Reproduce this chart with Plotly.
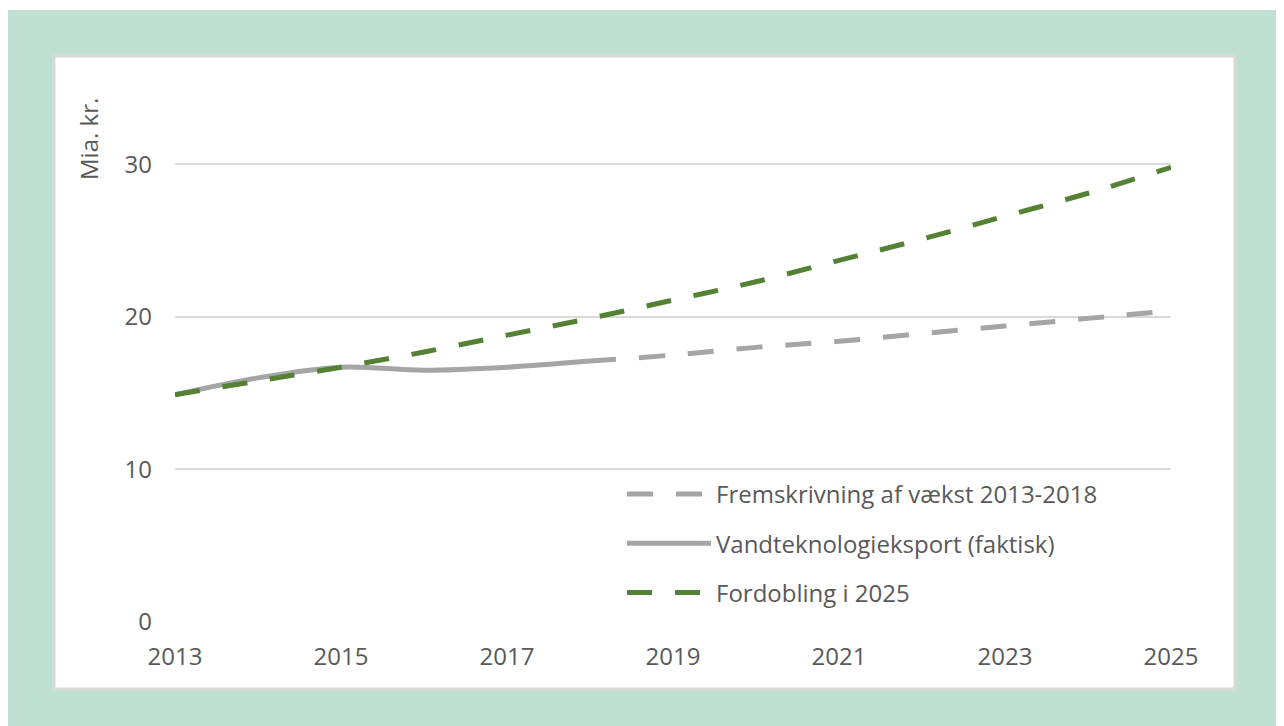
import plotly.graph_objects as go

# ---- data ----
years_actual = [2013, 2014, 2015, 2016, 2017, 2018]
actual_values = [14.9, 16.0, 16.7, 16.5, 16.7, 17.1]

years_projection = [2018, 2019, 2020, 2021, 2022, 2023, 2024, 2025]
projection_values = [17.1, 17.5, 18.0, 18.4, 18.9, 19.4, 19.9, 20.4]

years_doubling = [2013, 2014, 2015, 2016, 2017, 2018, 2019, 2020, 2021, 2022, 2023, 2024, 2025]
doubling_values = [14.9, 15.8, 16.7, 17.7, 18.8, 19.9, 21.1, 22.3, 23.7, 25.1, 26.6, 28.1, 29.8]

x_tick_values = [2013, 2015, 2017, 2019, 2021, 2023, 2025]
y_tick_values = [0, 10, 20, 30]

name_projection = "Fremskrivning af vækst 2013-2018"
name_actual = "Vandteknologieksport (faktisk)"
name_doubling = "Fordobling i 2025"
y_title = "Mia. kr."

# ---- style ----
FONT = "Open Sans"
TEXT = "#595959"
GRAY = "#a5a5a5"
GREEN = "#548235"
GRID = "#d9d9d9"
BG_GREEN = "#bfe0d2"

OFF = 8  # page body margin
W, H = 1284 - OFF, 726 - OFF
L, R, T, B = 175 - OFF, 1284 - 1171, 88 - OFF, 726 - 622
PW, PH = W - L - R, H - T - B


def px_x(p):  # screen px -> paper
    return (p - OFF - L) / PW


def px_y(p):
    return (H - B - (p - OFF)) / PH


fig = go.Figure()

fig.add_trace(go.Scatter(
    x=years_projection, y=projection_values, name=name_projection,
    mode="lines", line=dict(color=GRAY, width=5, dash="26px,23px", shape="spline"),
    legendgroup="a",
))
fig.add_trace(go.Scatter(
    x=years_actual, y=actual_values, name=name_actual,
    mode="lines", line=dict(color=GRAY, width=5, shape="spline"),
    legendgroup="b",
))
fig.add_trace(go.Scatter(
    x=years_doubling, y=doubling_values, name=name_doubling,
    mode="lines", line=dict(color=GREEN, width=5, dash="25px,23px", shape="spline"),
    legendgroup="c",
))

shapes = [
    # white card with light gray border
    dict(type="rect", xref="paper", yref="paper", layer="below",
         x0=px_x(54), x1=px_x(1235), y0=px_y(689), y1=px_y(56),
         fillcolor="white", line=dict(color=GRID, width=3)),
    # thin white strip at top edge
    dict(type="rect", xref="paper", yref="paper", layer="below",
         x0=px_x(0), x1=px_x(1300), y0=px_y(10), y1=px_y(0),
         fillcolor="white", line=dict(width=0)),
]

FS = 24

fig.update_layout(
    width=W, height=H,
    margin=dict(l=L, r=R, t=T, b=B, autoexpand=False),
    paper_bgcolor=BG_GREEN,
    plot_bgcolor="rgba(0,0,0,0)",
    font=dict(family=FONT, size=FS, color=TEXT),
    shapes=shapes,
    showlegend=True,
    legend=dict(
        x=px_x(622), y=px_y(472), xanchor="left", yanchor="top",
        bgcolor="rgba(0,0,0,0)", font=dict(family=FONT, size=FS, color=TEXT),
        tracegroupgap=15, itemwidth=84,
    ),
    annotations=[dict(
        text=y_title, xref="paper", yref="paper",
        x=px_x(88), y=px_y(139), xanchor="center", yanchor="middle",
        textangle=-90, showarrow=False, font=dict(family=FONT, size=FS, color=TEXT),
    )],
    xaxis=dict(
        range=[2013, 2025], tickmode="array", tickvals=x_tick_values,
        showgrid=False, zeroline=False, showline=False, ticks="",
        ticklabelstandoff=18, tickfont=dict(family=FONT, size=FS, color=TEXT),
    ),
    yaxis=dict(
        range=[0, 35], tickmode="array", tickvals=y_tick_values,
        showgrid=True, gridcolor=GRID, gridwidth=2, zeroline=False, showline=False,
        ticks="", ticklabelstandoff=22, tickfont=dict(family=FONT, size=FS, color=TEXT),
    ),
)

fig.write_html("out.html")
